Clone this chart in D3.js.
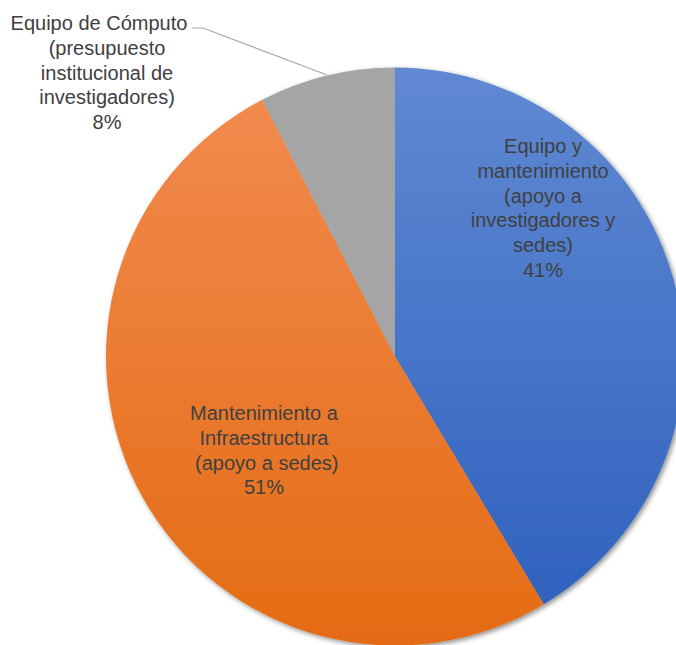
<!DOCTYPE html>
<html>
<head>
<meta charset="utf-8">
<script src="https://cdn.jsdelivr.net/npm/d3@7"></script>
<style>
  body { margin: 0; background: #fff; }
  svg { display: block; }
  .lbl { font-family: "Liberation Sans", Arial, sans-serif; font-size: 20px; fill: #404040; }
</style>
</head>
<body>
<div class="chart"></div>
<script>
// pie data (clockwise from 12 o'clock)
const categories = [
  ['Equipo y', 'mantenimiento', '(apoyo a', 'investigadores y', 'sedes)'],
  ['Mantenimiento a', 'Infraestructura', ' (apoyo a sedes)'],
  ['Equipo de Cómputo', '(presupuesto', 'institucional de', 'investigadores)']
];
const values = [41.4, 51.0, 7.6];
const percentLabels = ['41%', '51%', '8%'];

const width = 676, height = 645;
const cx = 395, cy = 356.5, radius = 289;

// label block centres (layout)
const labelPos = [[543, 146], [264, 413], [107, 23]];
const lineShift = [[], [], [-8]];
const lineH = 24.8;

const svg = d3.select('.chart').append('svg')
    .attr('width', width)
    .attr('height', height);

const defs = svg.append('defs');
const grads = [
  ['#6089d2', '#2c5fbd'],
  ['#f28c52', '#e46b13'],
  ['#a5a5a5', '#a5a5a5']
];
grads.forEach(function(c, i) {
  const lg = defs.append('linearGradient')
      .attr('id', 'g' + i)
      .attr('gradientUnits', 'userSpaceOnUse')
      .attr('x1', 0).attr('y1', -radius)
      .attr('x2', 0).attr('y2', radius);
  lg.append('stop').attr('offset', '0%').attr('stop-color', c[0]);
  lg.append('stop').attr('offset', '100%').attr('stop-color', c[1]);
});
const f = defs.append('filter').attr('id', 'shadow')
    .attr('x', '-10%').attr('y', '-10%').attr('width', '120%').attr('height', '120%');
f.append('feDropShadow')
    .attr('dx', 2).attr('dy', 2).attr('stdDeviation', 2.5)
    .attr('flood-color', '#000').attr('flood-opacity', 0.45);

const pie = d3.pie().sort(null).value(function(d) { return d; });
const arc = d3.arc().innerRadius(0).outerRadius(radius);
const slices = pie(values);

const g = svg.append('g')
    .attr('transform', 'translate(' + cx + ',' + cy + ')');

g.append('g').attr('filter', 'url(#shadow)')
  .selectAll('path')
  .data(slices)
  .enter().append('path')
    .attr('d', arc)
    .attr('fill', function(d, i) { return 'url(#g' + i + ')'; });

// leader line for the small slice
const small = slices[2];
const mid = (small.startAngle + small.endAngle) / 2;
const ex = cx + Math.sin(mid) * (radius + 1);
const ey = cy - Math.cos(mid) * (radius + 1);
svg.append('polyline')
    .attr('points', [[192, 28], [203, 28], [ex, ey]].map(function(p) { return p.join(','); }).join(' '))
    .attr('fill', 'none')
    .attr('stroke', '#a6a6a6')
    .attr('stroke-width', 1.2);

// labels
categories.forEach(function(lines, i) {
  const t = svg.append('text')
      .attr('class', 'lbl')
      .attr('text-anchor', 'middle');
  lines.concat([percentLabels[i]]).forEach(function(s, k) {
    t.append('tspan')
        .attr('x', labelPos[i][0] + (lineShift[i][k] || 0))
        .attr('y', labelPos[i][1] + k * lineH)
        .attr('dominant-baseline', 'central')
        .text(s);
  });
});
</script>
</body>
</html>
